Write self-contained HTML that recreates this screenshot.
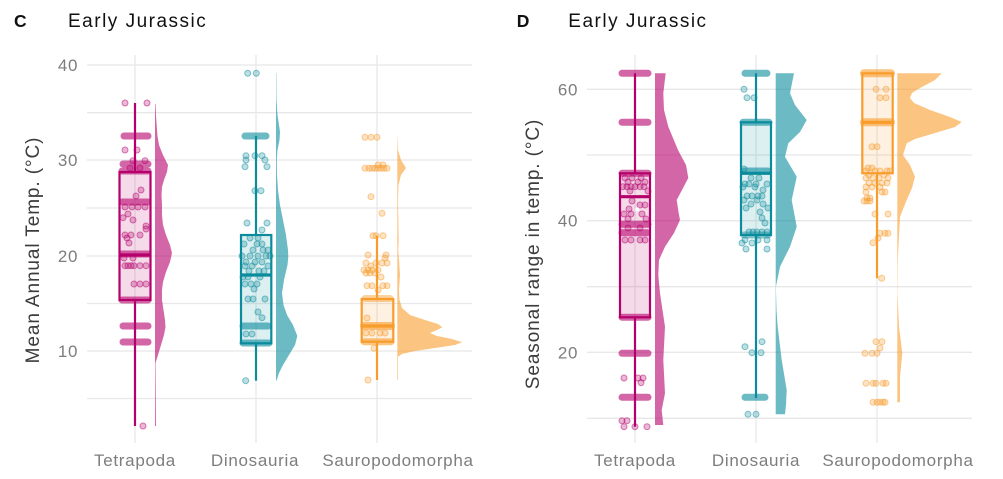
<!DOCTYPE html>
<html><head><meta charset="utf-8">
<style>
html,body{margin:0;padding:0;background:#fff;}
svg{display:block;font-family:"Liberation Sans",Arial,sans-serif;}
.grid line{stroke:#e8e8e8;stroke-width:1.3}
.tick{font-size:17px;fill:#7d7d7d;text-anchor:end;letter-spacing:0.6px}
.xl{font-size:17px;fill:#7d7d7d;text-anchor:middle;letter-spacing:0.7px}
.yt{font-size:19px;fill:#3c3c3c;text-anchor:middle;letter-spacing:0.9px}
.ttl{font-size:19px;fill:#111;letter-spacing:1.5px}
.lbl{font-size:17.5px;font-weight:bold;fill:#111}
.T{color:#b5006c}
.D{color:#0a8c9c}
.S{color:#f89c2b}
circle{fill:currentColor;fill-opacity:.28;stroke:currentColor;stroke-opacity:.5;stroke-width:1}
.row{stroke:currentColor;stroke-opacity:.6;stroke-width:7;stroke-linecap:round}
.dens{fill:currentColor;fill-opacity:.6;stroke:none}
.bf{fill:currentColor;fill-opacity:.14;stroke:none}
.bx{fill:none;stroke:currentColor;stroke-width:2.2}
.w{stroke:currentColor;stroke-width:2.2}
.med{stroke-width:3.2}
</style></head>
<body>
<svg width="1003" height="479" viewBox="0 0 1003 479" xmlns="http://www.w3.org/2000/svg">
<!-- ================= LEFT PANEL ================= -->
<g class="grid">
<line x1="87" x2="472" y1="65" y2="65"/>
<line x1="87" x2="472" y1="112.7" y2="112.7"/>
<line x1="87" x2="472" y1="160" y2="160"/>
<line x1="87" x2="472" y1="208" y2="208"/>
<line x1="87" x2="472" y1="256" y2="256"/>
<line x1="87" x2="472" y1="303.5" y2="303.5"/>
<line x1="87" x2="472" y1="351" y2="351"/>
<line x1="87" x2="472" y1="398.5" y2="398.5"/>
<line x1="135" x2="135" y1="55" y2="443"/>
<line x1="256" x2="256" y1="55" y2="443"/>
<line x1="377" x2="377" y1="55" y2="443"/>
</g>
<text class="tick" x="78" y="71">40</text>
<text class="tick" x="78" y="166">30</text>
<text class="tick" x="78" y="262">20</text>
<text class="tick" x="78" y="357">10</text>
<text class="yt" transform="translate(39,250) rotate(-90)">Mean Annual Temp. (°C)</text>
<text class="lbl" x="14" y="27">C</text>
<text class="ttl" x="68" y="27">Early Jurassic</text>
<text class="xl" x="135" y="466">Tetrapoda</text>
<text class="xl" x="255" y="466">Dinosauria</text>
<text class="xl" x="398" y="466">Sauropodomorpha</text>

<!-- Tetrapoda left -->
<g class="T">
<path class="dens" d="M155,103.7 L155.5,103.7 156,115 157,130 157.5,136 159,145 163,155 168,165 167,172 164,180 162,187 161.5,195 162,205 162,215 163,225 166,235 170,245 172,253 170,262 166,272 163,282 162,290 162,300 163.5,310 165,320 165.5,327 164,335 161,345 158,355 155.5,363 156,426 155,426 Z"/>
<rect class="bf" x="119.5" y="172" width="31" height="128"/>
<circle cx="125" cy="103" r="3"/><circle cx="147" cy="103" r="3"/>
<line class="row" x1="124" x2="148" y1="136" y2="136"/>
<circle cx="125" cy="150" r="3"/><circle cx="137" cy="150" r="3"/>
<circle cx="133" cy="160.7" r="3"/><circle cx="145" cy="160.7" r="3"/>
<line class="row" x1="123" x2="148" y1="164" y2="164"/>
<circle cx="130" cy="168" r="3"/><circle cx="140" cy="168" r="3"/>
<line class="row" x1="122" x2="148" y1="171" y2="171"/>
<circle cx="141" cy="190" r="3"/><circle cx="136" cy="196" r="3"/>
<line class="row" x1="122" x2="148" y1="202" y2="202"/>
<circle cx="125" cy="207" r="3"/><circle cx="132" cy="207" r="3"/><circle cx="138" cy="207" r="3"/><circle cx="145" cy="207" r="3"/>
<circle cx="128" cy="214" r="3"/><circle cx="123" cy="217.7" r="3"/><circle cx="133" cy="220" r="3"/>
<circle cx="146" cy="226" r="3"/><circle cx="146" cy="229" r="3"/>
<circle cx="125" cy="235" r="3"/><circle cx="131" cy="235" r="3"/><circle cx="140" cy="235" r="3"/>
<circle cx="127" cy="238" r="3"/><circle cx="129" cy="243" r="3"/>
<line class="row" x1="122" x2="148" y1="254" y2="254"/>
<circle cx="124" cy="258" r="3"/><circle cx="133" cy="258" r="3"/>
<circle cx="125" cy="265.7" r="3"/><circle cx="128" cy="265.7" r="3"/><circle cx="131" cy="265.7" r="3"/><circle cx="134" cy="265.7" r="3"/><circle cx="140" cy="265.7" r="3"/><circle cx="146" cy="265.7" r="3"/>
<circle cx="134" cy="284" r="3"/><circle cx="140" cy="284" r="3"/><circle cx="146" cy="284" r="3"/>
<line class="row" x1="122" x2="148" y1="300" y2="300"/>
<line class="row" x1="123" x2="148" y1="326" y2="326"/>
<line class="row" x1="123" x2="148" y1="342" y2="342"/>
<circle cx="143" cy="426" r="3"/>
<line class="w" x1="135" x2="135" y1="103" y2="172"/>
<line class="w" x1="135" x2="135" y1="300" y2="426"/>
<rect class="bx" x="119.5" y="172" width="31" height="128"/>
<line class="w med" x1="119.5" x2="150.5" y1="255" y2="255"/>
</g>

<!-- Dinosauria left -->
<g class="D">
<path class="dens" d="M276,73 L276.3,73 276.5,100 277.5,115 279,125 280,132 279.5,140 277.5,150 276.8,160 277,175 278,190 280,205 283,220 286,235 288,250 288.3,257 287.5,265 284,280 282,293 283.5,305 287,315 293,325 297.3,336 295,345 289,355 283,365 279,373 276.5,380.7 276,380.7 Z"/>
<rect class="bf" x="241" y="235" width="30.3" height="108.3"/>
<circle cx="247.7" cy="73.3" r="3"/><circle cx="256.3" cy="73.3" r="3"/>
<line class="row" x1="245" x2="266" y1="136" y2="136"/>
<circle cx="246" cy="155.7" r="3"/><circle cx="255" cy="155.7" r="3"/><circle cx="262" cy="155.7" r="3"/>
<circle cx="246" cy="160" r="3"/><circle cx="265" cy="160" r="3"/>
<circle cx="245" cy="166.7" r="3"/><circle cx="267" cy="166.7" r="3"/>
<circle cx="255" cy="190.7" r="3"/><circle cx="261" cy="190.7" r="3"/>
<circle cx="247" cy="223" r="3"/><circle cx="267" cy="223" r="3"/><circle cx="262" cy="230" r="3"/>
<circle cx="250" cy="238" r="3"/><circle cx="258" cy="238" r="3"/>
<circle cx="244" cy="244" r="3"/><circle cx="257" cy="244" r="3"/><circle cx="262" cy="244" r="3"/>
<circle cx="253" cy="250" r="3"/><circle cx="263" cy="250" r="3"/><circle cx="268" cy="250" r="3"/>
<circle cx="242" cy="256" r="3"/><circle cx="250" cy="256" r="3"/><circle cx="258" cy="256" r="3"/><circle cx="266" cy="256" r="3"/><circle cx="270" cy="256" r="3"/>
<circle cx="246" cy="262" r="3"/><circle cx="255" cy="262" r="3"/><circle cx="262" cy="262" r="3"/>
<circle cx="245" cy="266" r="3"/><circle cx="252" cy="266" r="3"/><circle cx="268" cy="266" r="3"/>
<circle cx="249" cy="271" r="3"/><circle cx="259" cy="271" r="3"/><circle cx="264" cy="271" r="3"/>
<circle cx="243" cy="277" r="3"/><circle cx="248" cy="277" r="3"/><circle cx="260" cy="277" r="3"/>
<circle cx="245" cy="284" r="3"/><circle cx="251" cy="284" r="3"/><circle cx="257" cy="284" r="3"/>
<circle cx="254" cy="289" r="3"/>
<circle cx="248" cy="299" r="3"/><circle cx="253" cy="299" r="3"/><circle cx="265" cy="299" r="3"/>
<circle cx="258" cy="312" r="3"/><circle cx="262" cy="317.7" r="3"/>
<line class="row" x1="243" x2="268" y1="326" y2="326"/>
<circle cx="246" cy="334" r="3"/><circle cx="252" cy="334" r="3"/>
<line class="row" x1="243" x2="269" y1="343" y2="343"/>
<circle cx="245.7" cy="380.7" r="3"/>
<line class="w" x1="256" x2="256" y1="136" y2="235"/>
<line class="w" x1="256" x2="256" y1="343.3" y2="380.7"/>
<rect class="bx" x="241" y="235" width="30.3" height="108.3"/>
<line class="w med" x1="241" x2="271.3" y1="275" y2="275"/>
</g>

<!-- Sauropodomorpha left -->
<g class="S">
<path class="dens" d="M397.3,137 L397.5,137 398,150 401,160 406,168 401,175 398.5,185 398,200 398.5,230 398.7,240 398.2,250 399,260 400,275 399,290 399.5,300 402,308 410,315 425,320 438,324 442.3,327.3 437,330 430,333 437,336 452,339 462.3,342.3 455,345 435,348 415,351 402,354 398,356.7 398,380 397.3,380 Z"/>
<rect class="bf" x="361.7" y="299" width="31.6" height="42.7"/>
<circle cx="365" cy="137.3" r="3"/><circle cx="371" cy="137.3" r="3"/><circle cx="377" cy="137.3" r="3"/>
<circle cx="378" cy="165" r="3"/><circle cx="383" cy="165" r="3"/>
<circle cx="365" cy="168.3" r="3"/><circle cx="369" cy="168.3" r="3"/><circle cx="372" cy="168.3" r="3"/><circle cx="375" cy="168.3" r="3"/><circle cx="378" cy="168.3" r="3"/><circle cx="381" cy="168.3" r="3"/><circle cx="384" cy="168.3" r="3"/><circle cx="387" cy="168.3" r="3"/>
<circle cx="371" cy="196.7" r="3"/><circle cx="382" cy="213.3" r="3"/>
<circle cx="373" cy="235.7" r="3"/><circle cx="376" cy="235.7" r="3"/><circle cx="383" cy="235.7" r="3"/>
<circle cx="368" cy="255" r="3"/><circle cx="386" cy="255" r="3"/><circle cx="385" cy="258" r="3"/>
<circle cx="366" cy="263" r="3"/><circle cx="376" cy="263" r="3"/><circle cx="382" cy="263" r="3"/><circle cx="387" cy="263" r="3"/>
<circle cx="371" cy="266" r="3"/>
<circle cx="364" cy="270" r="3"/><circle cx="368" cy="270" r="3"/><circle cx="372" cy="270" r="3"/><circle cx="378" cy="270" r="3"/>
<circle cx="366" cy="273" r="3"/><circle cx="370" cy="273" r="3"/><circle cx="375" cy="273" r="3"/><circle cx="381" cy="277" r="3"/>
<circle cx="367" cy="285.7" r="3"/><circle cx="372" cy="285.7" r="3"/><circle cx="383" cy="285.7" r="3"/><circle cx="387" cy="285.7" r="3"/>
<circle cx="378" cy="290" r="3"/>
<line class="row" style="stroke-opacity:.45" x1="365" x2="390" y1="298.5" y2="298.5"/>
<circle cx="367" cy="318" r="3"/>
<line class="row" style="stroke-width:8" x1="364" x2="391" y1="326" y2="326"/>
<circle cx="366" cy="333" r="3"/><circle cx="372" cy="333" r="3"/><circle cx="380" cy="333" r="3"/><circle cx="385" cy="333" r="3"/>
<line class="row" x1="364" x2="391" y1="341.7" y2="341.7"/>
<circle cx="374" cy="348.3" r="3"/>
<circle cx="368" cy="380" r="3"/>
<line class="w" x1="377" x2="377" y1="235.7" y2="299"/>
<line class="w" x1="377" x2="377" y1="341.7" y2="380"/>
<rect class="bx" x="361.7" y="299" width="31.6" height="42.7"/>
<line class="w med" x1="361.7" x2="393.3" y1="326" y2="326"/>
</g>

<!-- ================= RIGHT PANEL ================= -->
<g class="grid">
<line x1="587" x2="972" y1="89.3" y2="89.3"/>
<line x1="587" x2="972" y1="155" y2="155"/>
<line x1="587" x2="972" y1="220.7" y2="220.7"/>
<line x1="587" x2="972" y1="286.7" y2="286.7"/>
<line x1="587" x2="972" y1="352.3" y2="352.3"/>
<line x1="587" x2="972" y1="418.3" y2="418.3"/>
<line x1="635" x2="635" y1="55" y2="443"/>
<line x1="756" x2="756" y1="55" y2="443"/>
<line x1="877" x2="877" y1="55" y2="443"/>
</g>
<text class="tick" x="578" y="95.3">60</text>
<text class="tick" x="578" y="226.7">40</text>
<text class="tick" x="578" y="358.3">20</text>
<text class="yt" transform="translate(539,254) rotate(-90)">Seasonal range in temp. (°C)</text>
<text class="lbl" x="516.7" y="27">D</text>
<text class="ttl" x="568.3" y="27">Early Jurassic</text>
<text class="xl" x="635" y="466">Tetrapoda</text>
<text class="xl" x="756" y="466">Dinosauria</text>
<text class="xl" x="898" y="466">Sauropodomorpha</text>

<!-- Tetrapoda right -->
<g class="T">
<path class="dens" d="M655,73.3 L665.7,73.3 663.3,93.3 664,110 668.3,126.7 678,150 686,165 688.3,178 682,190 676.7,200 678.5,212 680,220 674,233 665,246.7 659,260 658.3,275 660,293.3 665,326.7 663.3,360 665,393.3 661.7,410 663.3,425 655,425 Z"/>
<rect class="bf" x="620" y="173.3" width="30" height="144"/>
<line class="row" x1="622" x2="648" y1="73.3" y2="73.3"/>
<line class="row" x1="622" x2="648" y1="122.3" y2="122.3"/>
<line class="row" x1="622" x2="648" y1="173.3" y2="173.3"/>
<circle cx="625" cy="178" r="3"/><circle cx="632" cy="178" r="3"/><circle cx="641" cy="178" r="3"/>
<circle cx="628" cy="182" r="3"/><circle cx="638" cy="182" r="3"/><circle cx="645" cy="182" r="3"/>
<circle cx="623" cy="186.7" r="3"/><circle cx="627" cy="186.7" r="3"/><circle cx="631" cy="186.7" r="3"/><circle cx="635" cy="186.7" r="3"/><circle cx="640" cy="186.7" r="3"/><circle cx="644" cy="186.7" r="3"/>
<circle cx="630" cy="191" r="3"/><circle cx="648" cy="191" r="3"/>
<circle cx="632" cy="201" r="3"/><circle cx="640" cy="205" r="3"/><circle cx="645" cy="205" r="3"/><circle cx="629" cy="209" r="3"/>
<circle cx="624" cy="214" r="3"/><circle cx="631" cy="214" r="3"/><circle cx="642" cy="214" r="3"/>
<circle cx="628" cy="219" r="3"/><circle cx="646" cy="219" r="3"/>
<line class="row" x1="622" x2="648" y1="224.3" y2="224.3"/>
<circle cx="628" cy="228" r="3"/><circle cx="640" cy="228" r="3"/>
<line class="row" x1="622" x2="647" y1="232.7" y2="232.7"/>
<circle cx="625" cy="240" r="3"/><circle cx="631" cy="240" r="3"/><circle cx="640" cy="240" r="3"/><circle cx="645" cy="240" r="3"/>
<line class="row" x1="622" x2="648" y1="317.3" y2="317.3"/>
<line class="row" x1="622" x2="648" y1="353.3" y2="353.3"/>
<circle cx="624" cy="378" r="3"/><circle cx="638" cy="378" r="3"/><circle cx="643" cy="378" r="3"/><circle cx="641" cy="382.7" r="3"/>
<line class="row" x1="622" x2="648" y1="397.3" y2="397.3"/>
<circle cx="622" cy="420.7" r="3"/><circle cx="627" cy="420.7" r="3"/>
<circle cx="624" cy="426.7" r="3"/><circle cx="635" cy="426.7" r="3"/><circle cx="647" cy="426.7" r="3"/>
<line class="w" x1="635" x2="635" y1="73.3" y2="173.3"/>
<line class="w" x1="635" x2="635" y1="317.3" y2="426.7"/>
<rect class="bx" x="620" y="173.3" width="30" height="144"/>
<line class="w med" x1="620" x2="650" y1="196.7" y2="196.7"/>
<circle cx="637.3" cy="209.3" r="2" style="fill:#fff;fill-opacity:1;stroke:none"/>
</g>

<!-- Dinosauria right -->
<g class="D">
<path class="dens" d="M775.7,73.3 L794,73.3 790,93.3 795,105 806.7,120 800,132 788.3,143.3 785,156.7 796.7,176.7 791.7,200 796.7,226.7 790,246.7 780,266.7 775.9,286.7 776.5,310 777.7,326.7 781.7,360 786.7,390 786,405 785,414.3 775.7,414.3 Z"/>
<rect class="bf" x="741" y="122.3" width="30" height="112.7"/>
<line class="row" x1="745" x2="767" y1="73.3" y2="73.3"/>
<circle cx="744" cy="89.3" r="3"/><circle cx="747" cy="97.7" r="3"/><circle cx="754" cy="97.7" r="3"/>
<line class="row" x1="743" x2="769" y1="122.3" y2="122.3"/>
<circle cx="744" cy="169" r="3"/>
<line class="row" x1="744" x2="768" y1="171" y2="171"/>
<circle cx="751" cy="178" r="3"/><circle cx="759" cy="178" r="3"/>
<circle cx="745" cy="184" r="3"/><circle cx="749" cy="184" r="3"/><circle cx="756" cy="184" r="3"/><circle cx="767" cy="184" r="3"/>
<circle cx="743" cy="187" r="3"/><circle cx="755" cy="187" r="3"/><circle cx="763" cy="190" r="3"/>
<circle cx="747" cy="196" r="3"/><circle cx="752" cy="196" r="3"/><circle cx="758" cy="196" r="3"/><circle cx="762" cy="196" r="3"/>
<circle cx="744" cy="200" r="3"/><circle cx="757" cy="200" r="3"/><circle cx="751" cy="204" r="3"/><circle cx="763" cy="204" r="3"/>
<circle cx="746" cy="208" r="3"/><circle cx="768" cy="208" r="3"/><circle cx="760" cy="212" r="3"/><circle cx="762" cy="218" r="3"/><circle cx="765" cy="223" r="3"/>
<circle cx="749" cy="232" r="3"/><circle cx="753" cy="232" r="3"/><circle cx="757" cy="232" r="3"/><circle cx="762" cy="232" r="3"/><circle cx="767" cy="232" r="3"/>
<line class="row" style="stroke-opacity:.5" x1="744" x2="768" y1="235" y2="235"/>
<circle cx="745" cy="240" r="3"/><circle cx="758" cy="240" r="3"/><circle cx="767" cy="240" r="3"/>
<circle cx="742" cy="243" r="3"/><circle cx="752" cy="243" r="3"/>
<circle cx="746" cy="249" r="3"/><circle cx="767" cy="249" r="3"/>
<circle cx="762" cy="341.7" r="3"/><circle cx="745" cy="346.7" r="3"/><circle cx="752" cy="352.7" r="3"/><circle cx="761" cy="352.7" r="3"/>
<line class="row" x1="745" x2="765" y1="397.3" y2="397.3"/>
<circle cx="748" cy="414.3" r="3"/><circle cx="756" cy="414.3" r="3"/>
<line class="w" x1="756" x2="756" y1="73.3" y2="122.3"/>
<line class="w" x1="756" x2="756" y1="235" y2="398"/>
<rect class="bx" x="741" y="122.3" width="30" height="112.7"/>
<line class="w med" x1="741" x2="771" y1="173.3" y2="173.3"/>
</g>

<!-- Sauropodomorpha right -->
<g class="S">
<path class="dens" d="M897.3,73.3 L941.7,73.3 935,80 920,88 912,93 910,98 914,103 930,110 950,117 961.7,122 955,127 935,133 915,139 906.7,143.3 903,155 910,165 915,176.7 912,188 906.7,200 900,216.7 897.8,260 897.5,293 899,326.7 902.3,353.3 900,376.7 900,402.3 897.3,402.3 Z"/>
<rect class="bf" x="862.3" y="73.3" width="30.4" height="100"/>
<line class="row" style="stroke-width:8" x1="864" x2="891" y1="73.3" y2="73.3"/>
<circle cx="876" cy="89.3" r="3"/><circle cx="886" cy="89.3" r="3"/><circle cx="880" cy="97.7" r="3"/><circle cx="886" cy="97.7" r="3"/>
<line class="row" style="stroke-width:8" x1="864" x2="891" y1="122.3" y2="122.3"/>
<circle cx="872" cy="146.7" r="3"/><circle cx="877" cy="146.7" r="3"/>
<circle cx="868" cy="168" r="3"/><circle cx="872" cy="168" r="3"/>
<circle cx="866" cy="171" r="3"/><circle cx="875" cy="171" r="3"/><circle cx="880" cy="171" r="3"/><circle cx="887" cy="171" r="3"/><circle cx="890" cy="171" r="3"/>
<circle cx="869" cy="175" r="3"/><circle cx="884" cy="175" r="3"/>
<circle cx="866" cy="178" r="3"/><circle cx="873" cy="178" r="3"/><circle cx="879" cy="178" r="3"/><circle cx="888" cy="178" r="3"/>
<circle cx="869" cy="183" r="3"/><circle cx="875" cy="183" r="3"/><circle cx="882" cy="183" r="3"/><circle cx="887" cy="183" r="3"/>
<circle cx="866" cy="187" r="3"/><circle cx="872" cy="187" r="3"/><circle cx="880" cy="187" r="3"/>
<circle cx="866" cy="192" r="3"/><circle cx="882" cy="192" r="3"/><circle cx="885" cy="192" r="3"/>
<circle cx="867" cy="198" r="3"/><circle cx="870" cy="198" r="3"/>
<circle cx="864" cy="201" r="3"/><circle cx="867" cy="201" r="3"/><circle cx="870" cy="201" r="3"/>
<circle cx="875" cy="214" r="3"/><circle cx="888" cy="214" r="3"/>
<circle cx="880" cy="233.3" r="3"/><circle cx="885" cy="233.3" r="3"/><circle cx="888" cy="233.3" r="3"/>
<circle cx="878" cy="238" r="3"/><circle cx="873" cy="242.7" r="3"/>
<circle cx="881.7" cy="278.3" r="3"/>
<circle cx="876" cy="341.7" r="3"/><circle cx="882" cy="341.7" r="3"/><circle cx="880" cy="348" r="3"/>
<circle cx="865" cy="353.3" r="3"/><circle cx="872" cy="353.3" r="3"/><circle cx="877" cy="353.3" r="3"/>
<circle cx="866" cy="383.3" r="3"/><circle cx="873" cy="383.3" r="3"/><circle cx="876" cy="383.3" r="3"/><circle cx="883" cy="383.3" r="3"/><circle cx="886" cy="383.3" r="3"/>
<circle cx="873" cy="402.3" r="3"/><circle cx="877" cy="402.3" r="3"/><circle cx="880" cy="402.3" r="3"/><circle cx="883" cy="402.3" r="3"/><circle cx="885" cy="402.3" r="3"/>
<line class="w" x1="877" x2="877" y1="173.3" y2="278.3"/>
<rect class="bx" x="862.3" y="73.3" width="30.4" height="100"/>
<line class="w med" x1="862.3" x2="892.7" y1="122.3" y2="122.3"/>
</g>
</svg>
</body></html>
